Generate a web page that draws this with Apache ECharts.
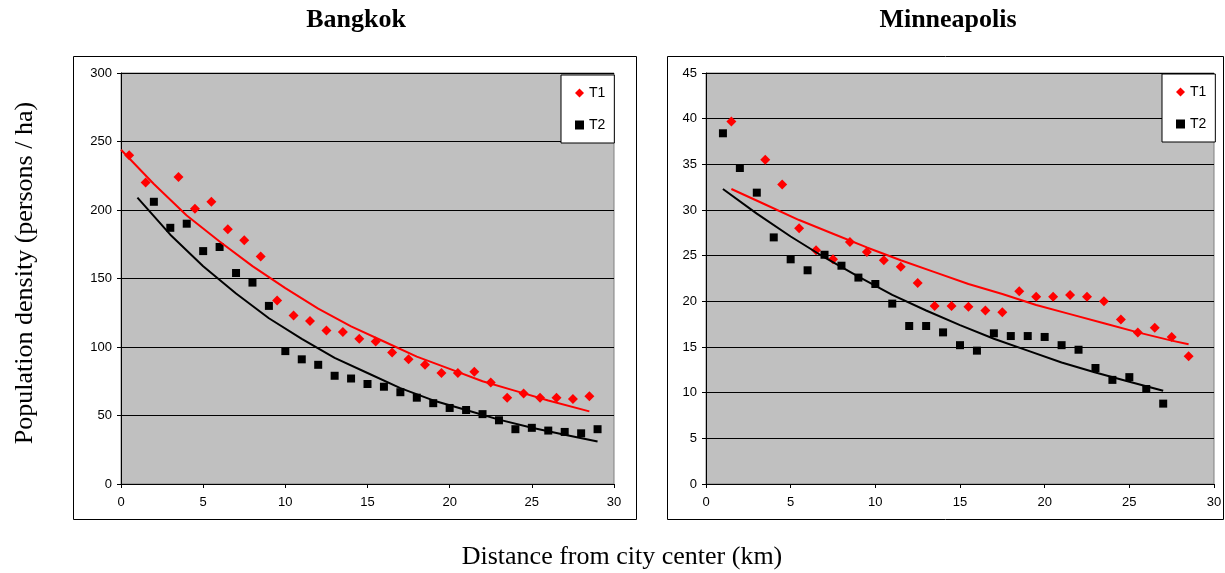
<!DOCTYPE html>
<html>
<head>
<meta charset="utf-8">
<script src="https://cdn.jsdelivr.net/npm/echarts@6/dist/echarts.min.js"></script>
<style>html,body{margin:0;padding:0;background:#fff}#c{width:1225px;height:573px}</style>
</head>
<body>
<div id="c"></div>
<script>
// ---- Data ----
const titles = ['Bangkok', 'Minneapolis'];
const xTitle = 'Distance from city center (km)';
const yTitle = 'Population density (persons / ha)';

// Bangkok
const bkkT1X = [0.5,1.5,3.5,4.5,5.5,6.5,7.5,8.5,9.5,10.5,11.5,12.5,13.5,14.5,15.5,16.5,17.5,18.5,19.5,20.5,21.5,22.5,23.5,24.5,25.5,26.5,27.5,28.5];
const bkkT1Y = [240,220,224,201,206,186,178,166,134,123,119,112,111,106,104,96,91,87,81,81,82,74,63,66,63,63,62,64];
const bkkT2X = [2,3,4,5,6,7,8,9,10,11,12,13,14,15,16,17,18,19,20,21,22,23,24,25,26,27,28,29];
const bkkT2Y = [206,187,190,170,173,154,147,130,97,91,87,79,77,73,71,67,63,59,55.5,54,51,46.5,40,41,39,38,37,40];
const bkkT1FitX = [0,2,4,6,8,10,12,14,16,18,20,22,24,26,28.5];
const bkkT1FitY = [244,219,196,177,159,143,128,115,104,93,84,75,68,61,53];
const bkkT2FitX = [1,3,5,7,9,11,13,15,17,19,21,23,25,27,29];
const bkkT2FitY = [209,182,159,139,121,106,92,81,70,61,54,47,41,36,31];

// Minneapolis
const mspT1X = [1.5,3.5,4.5,5.5,6.5,7.5,8.5,9.5,10.5,11.5,12.5,13.5,14.5,15.5,16.5,17.5,18.5,19.5,20.5,21.5,22.5,23.5,24.5,25.5,26.5,27.5,28.5];
const mspT1Y = [39.7,35.5,32.8,28.0,25.6,24.6,26.5,25.4,24.5,23.8,22.0,19.5,19.5,19.4,19.0,18.8,21.1,20.5,20.5,20.7,20.5,20.0,18.0,16.6,17.1,16.1,14.0];
const mspT2X = [1,2,3,4,5,6,7,8,9,10,11,12,13,14,15,16,17,18,19,20,21,22,23,24,25,26,27];
const mspT2Y = [38.4,34.6,31.9,27.0,24.6,23.4,25.1,23.9,22.6,21.9,19.75,17.3,17.3,16.6,15.2,14.6,16.5,16.2,16.2,16.1,15.2,14.7,12.7,11.4,11.7,10.4,8.8];
const mspT1FitX = [1.5,3.5,5.5,7.5,9.5,11.5,13.5,15.5,17.5,19.5,21.5,23.5,25.5,27.5,28.5];
const mspT1FitY = [32.3,30.6,28.9,27.4,25.9,24.5,23.2,21.9,20.8,19.6,18.6,17.6,16.6,15.7,15.3];
const mspT2FitX = [1,3,5,7,9,11,13,15,17,19,21,23,25,27];
const mspT2FitY = [32.3,29.6,27.1,24.8,22.7,20.7,19.0,17.4,15.9,14.6,13.3,12.2,11.2,10.2];

// Axis ticks
const xTicks = {min: 0, max: 30, interval: 5};
const yTicksBkk = {min: 0, max: 300, interval: 50};
const yTicksMsp = {min: 0, max: 45, interval: 5};

const zip = (xs, ys) => xs.map((x, i) => [x, ys[i]]);

const serif = 'Liberation Serif, Times New Roman, serif';
const sans = 'Liberation Sans, Arial, sans-serif';

function xAxis(gi) {
  return {
    type: 'value', gridIndex: gi, min: xTicks.min, max: xTicks.max, interval: xTicks.interval,
    axisLine: {show: true, lineStyle: {color: '#000', width: 1}},
    axisTick: {show: true, inside: false, length: 4, lineStyle: {color: '#000'}},
    axisLabel: {color: '#000', fontFamily: sans, fontSize: 13, margin: 12},
    splitLine: {show: false}
  };
}
function yAxis(gi, t) {
  return {
    type: 'value', gridIndex: gi, min: t.min, max: t.max, interval: t.interval,
    axisLine: {show: true, lineStyle: {color: '#000', width: 1}},
    axisTick: {show: true, inside: false, length: 4, lineStyle: {color: '#000'}},
    axisLabel: {color: '#000', fontFamily: sans, fontSize: 13, margin: 9},
    splitLine: {show: true, lineStyle: {color: '#000', width: 1}}
  };
}
function legend(left, top) {
  return {
    left: left, top: top, orient: 'vertical',
    backgroundColor: '#fff', borderColor: '#000', borderWidth: 1,
    padding: [11, 9, 11, 14], itemWidth: 9, itemHeight: 9, itemGap: 18, itemTextGap: 6,
    textStyle: {color: '#000', fontFamily: sans, fontSize: 14},
    data: [{name: 'T1', icon: 'diamond'}, {name: 'T2', icon: 'rect'}],
    selectedMode: false
  };
}
function pts(name, gi, data, sym, size, color) {
  return {name: name, type: 'scatter', xAxisIndex: gi, yAxisIndex: gi, data: data,
    symbol: sym, symbolSize: size, itemStyle: {color: color, opacity: 1}, z: 3, animation: false};
}
function fit(name, gi, data, color) {
  return {name: name, type: 'line', xAxisIndex: gi, yAxisIndex: gi, data: data,
    showSymbol: false, symbol: 'none', lineStyle: {color: color, width: 2}, z: 4, animation: false};
}

const chart = echarts.init(document.getElementById('c'));
chart.setOption({
  backgroundColor: '#fff',
  animation: false,
  title: [
    {text: titles[0], left: 351, top: 2, textAlign: 'center',
     textStyle: {fontFamily: serif, fontSize: 26, fontWeight: 'bold', color: '#000'}},
    {text: titles[1], left: 943, top: 2, textAlign: 'center',
     textStyle: {fontFamily: serif, fontSize: 26, fontWeight: 'bold', color: '#000'}}
  ],
  graphic: [
    {type: 'rect', shape: {x: 73.5, y: 56.5, width: 563, height: 463}, style: {fill: 'none', stroke: '#000', lineWidth: 1}, silent: true},
    {type: 'rect', shape: {x: 667.5, y: 56.5, width: 556, height: 463}, style: {fill: 'none', stroke: '#000', lineWidth: 1}, silent: true},
    {type: 'text', x: 622, y: 557, style: {text: xTitle, font: '26px ' + serif, fill: '#000', align: 'center', verticalAlign: 'middle'}},
    {type: 'text', x: 25, y: 273, rotation: Math.PI / 2, style: {text: yTitle, font: '26px ' + serif, fill: '#000', align: 'center', verticalAlign: 'middle'}}
  ],
  grid: [
    {left: 121, top: 73, width: 493, height: 411, show: true, backgroundColor: '#c0c0c0', borderColor: '#808080', borderWidth: 1},
    {left: 706, top: 73, width: 508, height: 411, show: true, backgroundColor: '#c0c0c0', borderColor: '#808080', borderWidth: 1}
  ],
  xAxis: [xAxis(0), xAxis(1)],
  yAxis: [yAxis(0, yTicksBkk), yAxis(1, yTicksMsp)],
  legend: [legend(561, 75), legend(1162, 74)],
  series: [
    pts('T1', 0, zip(bkkT1X, bkkT1Y), 'diamond', 10, '#ff0000'),
    pts('T2', 0, zip(bkkT2X, bkkT2Y), 'rect', 8, '#000000'),
    fit('Bangkok T1 trend', 0, zip(bkkT1FitX, bkkT1FitY), '#ff0000'),
    fit('Bangkok T2 trend', 0, zip(bkkT2FitX, bkkT2FitY), '#000000'),
    pts('T1', 1, zip(mspT1X, mspT1Y), 'diamond', 10, '#ff0000'),
    pts('T2', 1, zip(mspT2X, mspT2Y), 'rect', 8, '#000000'),
    fit('Minneapolis T1 trend', 1, zip(mspT1FitX, mspT1FitY), '#ff0000'),
    fit('Minneapolis T2 trend', 1, zip(mspT2FitX, mspT2FitY), '#000000')
  ]
});
</script>
</body>
</html>
